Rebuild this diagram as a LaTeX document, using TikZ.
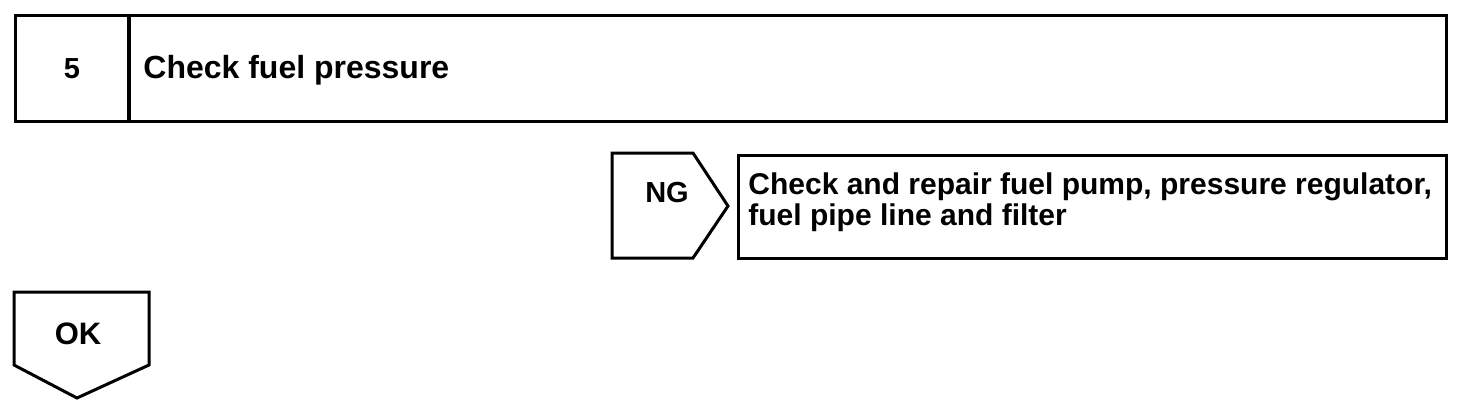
\documentclass[tikz,border=0pt]{standalone}
\usepackage{fontspec}
\setmainfont{Liberation Sans}
\usetikzlibrary{positioning}

\begin{document}
\begin{tikzpicture}[x=0.5pt,y=-0.5pt,
		box/.style={draw, line width=1.5pt},
		label/.style={font=\bfseries\fontsize{14.5}{14}\selectfont, inner sep=0pt}]
				\useasboundingbox (0,0) rectangle (1472,414);
				
				\node[box, minimum width=56.5pt, minimum height=53pt] (stepnum) at (71.5,68) {};
				\node[box, anchor=west, minimum width=658.5pt, minimum height=53pt] (steptitle) at (128,68) {};
				\node[label, anchor=base] (numtext) at (72,78) {5};
				\node[label, anchor=base west, font=\bfseries\fontsize{16}{16}\selectfont] (titletext) at (143,78) {Check fuel pressure};
				
				\draw[line width=1.5pt, line join=miter] (612,153) -- (693,153) -- (728,206) -- (693,258) -- (612,258) -- cycle;
				\node[label, anchor=base] (ngtag) at (667,202) {NG};
				\node[box, anchor=west, minimum width=354pt, minimum height=51.5pt] (ngaction) at (737,206.5) {};
				\node[label, anchor=base west, align=left, font=\bfseries\fontsize{15}{13.5}\selectfont] (ngtext) at (748,225) {Check and repair fuel pump, pressure regulator,\\fuel pipe line and filter};
				
				\draw[line width=1.5pt, line join=miter] (14,292) -- (149,292) -- (149,365) -- (77,398) -- (14,365) -- cycle;
				\node[label, anchor=base, font=\bfseries\fontsize{15.5}{15}\selectfont] (oktag) at (78,344) {OK};
			\end{tikzpicture}
\end{document}
